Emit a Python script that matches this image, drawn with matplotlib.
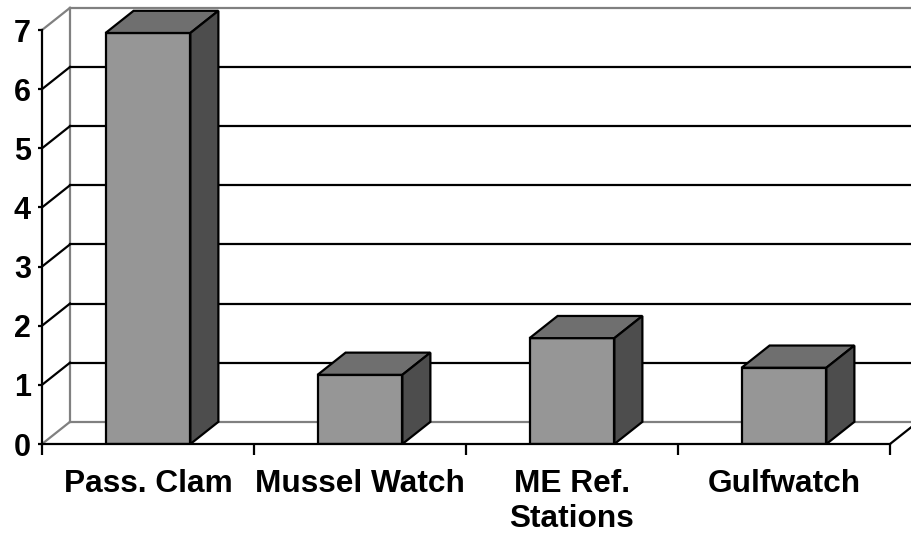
import matplotlib
matplotlib.use("Agg")
import matplotlib.pyplot as plt
from matplotlib.patches import Polygon

categories = ["Pass. Clam", "Mussel Watch", "ME Ref.\nStations", "Gulfwatch"]
values = [6.95, 1.17, 1.79, 1.29]
yticks = [0, 1, 2, 3, 4, 5, 6, 7]

plt.rcParams['font.family'] = ['Liberation Sans', 'DejaVu Sans']

W, H = 911, 536
fig = plt.figure(figsize=(W / 100, H / 100), dpi=100)
ymax = 7.4
ax = fig.add_axes([42 / W, 92 / H, 848 / W, ymax * 59.14 / H])
ax.set_xlim(0, 4)
ax.set_ylim(0, ymax)

dx = 0.132   # depth offset in category units
dy = 0.375   # depth offset in value units
gray = '#808080'
lw = 1.6

# back wall and left wall
ax.plot([dx, dx], [dy, 7 + dy], color=gray, lw=lw, clip_on=False, zorder=1)
ax.plot([dx, 4 + dx + 0.5], [7 + dy, 7 + dy], color=gray, lw=lw, clip_on=False, zorder=1)
ax.plot([dx, 4 + dx + 0.5], [dy, dy], color=gray, lw=lw, clip_on=False, zorder=1)
for t in yticks:
    c = gray if t in (0, 7) else 'black'
    ax.plot([0, dx], [t, t + dy], color=c, lw=lw, clip_on=False, zorder=1)
    if 0 < t < 7:
        ax.plot([dx, 4 + dx + 0.5], [t + dy, t + dy], color='black', lw=lw,
                clip_on=False, zorder=1)
# floor right edge
ax.plot([4, 4 + dx], [0, dy], color='black', lw=lw, clip_on=False, zorder=1)

# bars
front, top, side = '#969696', '#6f6f6f', '#4d4d4d'
bw = 0.4
xs = [i + 0.5 for i in range(len(categories))]
ax.bar(xs, values, width=bw, color=front, edgecolor='black', linewidth=lw, zorder=3)
for x, v in zip(xs, values):
    l, r = x - bw / 2, x + bw / 2
    ax.add_patch(Polygon([(l, v), (l + dx, v + dy), (r + dx, v + dy), (r, v)],
                         closed=True, facecolor=top, edgecolor='black', lw=lw,
                         zorder=3, joinstyle='miter'))
    ax.add_patch(Polygon([(r, 0), (r + dx, dy), (r + dx, v + dy), (r, v)],
                         closed=True, facecolor=side, edgecolor='black', lw=lw,
                         zorder=3, joinstyle='miter'))

# axes
for s in ('top', 'right'):
    ax.spines[s].set_visible(False)
ax.spines['left'].set_bounds(0, 7)
ax.spines['bottom'].set_bounds(0, 4)
for s in ('left', 'bottom'):
    ax.spines[s].set_linewidth(lw)
    ax.spines[s].set_zorder(4)
ax.set_facecolor('none')

ax.set_yticks(yticks)
ax.set_yticklabels([str(t) for t in yticks], fontsize=22, fontweight='bold')
ax.tick_params(axis='y', length=3, width=lw, pad=5)

ax.set_xticks(xs)
ax.set_xticklabels(categories, fontsize=22.8, fontweight='bold', linespacing=1.2,
                   va='top')
ax.set_xticks([0, 1, 2, 3, 4], minor=True)
ax.tick_params(axis='x', which='major', length=0, pad=18)
ax.tick_params(axis='x', which='minor', length=8, width=lw)

fig.savefig("out.png", dpi=100)
